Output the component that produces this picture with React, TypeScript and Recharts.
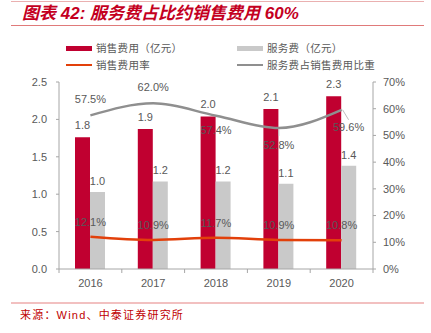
import { ComposedChart, Bar, Line, XAxis, YAxis, LabelList } from "recharts";

const years = ["2016", "2017", "2018", "2019", "2020"];
// 销售费用（亿元）
const salesExpense = [1.76, 1.87, 2.04, 2.14, 2.31];
// 服务费（亿元）
const serviceFee = [1.03, 1.17, 1.17, 1.14, 1.38];
// 销售费用率 (%)
const expenseRate = [12.1, 10.9, 11.7, 10.9, 10.8];
// 服务费占销售费用比重 (%)
const serviceShare = [57.5, 62.0, 57.4, 52.8, 59.6];

const leftTicks = [0, 0.5, 1.0, 1.5, 2.0, 2.5];
const rightTicks = [0, 10, 20, 30, 40, 50, 60, 70];

const data = years.map((year, i) => ({
  year,
  sales: salesExpense[i],
  service: serviceFee[i],
  rate: expenseRate[i],
  share: serviceShare[i],
}));

const RED = "#c00030";
const GREY_BAR = "#c9c9c9";
const ORANGE = "#e2400a";
const GREY_LINE = "#8f8f8f";
const AXIS = "#a6a6a6";
const TEXT = "#595959";
const NUM_FONT = "'Liberation Sans', Arial, sans-serif";
const CJK_FONT = "'Noto Sans CJK SC', sans-serif";

// label baseline offsets for the share line (above / below the point)
const shareDy = [-12, -12, 18, 21, 21];

function ShareLabel(props: any) {
  const { x, y, index, value } = props;
  const dx = index === 4 ? 7 : 0;
  return (
    <g>
      {index === 3 && (
        <line x1={x} y1={y + 1} x2={x} y2={y + 8} stroke="#bfbfbf" strokeWidth={1} />
      )}
      {index === 4 && (
        <line x1={x + 1} y1={y} x2={x + 7} y2={y + 10} stroke="#bfbfbf" strokeWidth={1} />
      )}
      <text
        x={x + dx}
        y={y + shareDy[index]}
        textAnchor="middle"
        fill={TEXT}
        fontSize={11}
        fontFamily={NUM_FONT}
      >
        {`${Number(value).toFixed(1)}%`}
      </text>
    </g>
  );
}

function RateLabel(props: any) {
  const { x, y, value } = props;
  return (
    <text x={x} y={y - 11} textAnchor="middle" fill={TEXT} fontSize={11} fontFamily={NUM_FONT}>
      {`${Number(value).toFixed(1)}%`}
    </text>
  );
}

function YearTick(props: any) {
  const { x, y, index, payload } = props;
  const half = 31.4;
  return (
    <g>
      <line x1={x - half} y1={y} x2={x - half} y2={y + 4} stroke={AXIS} />
      {index === years.length - 1 && (
        <line x1={x + half} y1={y} x2={x + half} y2={y + 4} stroke={AXIS} />
      )}
      <text x={x} y={y + 18} textAnchor="middle" fill={TEXT} fontSize={11} fontFamily={NUM_FONT}>
        {payload.value}
      </text>
    </g>
  );
}

function LegendItem({ kind, color, label, left, top }: any) {
  return (
    <div style={{ position: "absolute", left, top, display: "flex", alignItems: "center", height: 12 }}>
      <div
        style={{
          width: 26,
          height: kind === "bar" ? 5 : 2.5,
          background: color,
          marginRight: 4,
        }}
      />
      <span style={{ fontSize: 10.5, color: TEXT, fontFamily: CJK_FONT, letterSpacing: 0.3, lineHeight: "12px" }}>
        {label}
      </span>
    </div>
  );
}

export default function App() {
  return (
    <div style={{ position: "absolute", left: 0, top: 0, width: 431, height: 333, background: "#fff", overflow: "hidden" }}>
      <div style={{ position: "absolute", left: 11, top: 1, width: 413, height: 1, background: "#eab0b0" }} />
      <div
        style={{
          position: "absolute",
          left: 22,
          top: 3,
          fontSize: 17,
          lineHeight: "22px",
          fontWeight: "bold",
          fontStyle: "italic",
          color: "#c4001f",
          fontFamily: "'Liberation Sans', 'Noto Sans CJK SC', sans-serif",
          whiteSpace: "nowrap",
        }}
      >
        图表 42: 服务费占比约销售费用 60%
      </div>
      <div style={{ position: "absolute", left: 11, top: 25, width: 413, height: 1, background: "#e07a7a" }} />

      <LegendItem kind="bar" color={RED} label="销售费用（亿元）" left={66} top={42} />
      <LegendItem kind="bar" color={GREY_BAR} label="服务费（亿元）" left={237} top={42} />
      <LegendItem kind="line" color={ORANGE} label="销售费用率" left={66} top={59} />
      <LegendItem kind="line" color={GREY_LINE} label="服务费占销售费用比重" left={237} top={59} />

      <div style={{ position: "absolute", left: 0, top: 0 }}>
        <ComposedChart
          width={431}
          height={333}
          data={data}
          margin={{ top: 82, right: 0, left: 0, bottom: 0 }}
          barGap={0}
        >
          <XAxis
            dataKey="year"
            height={64}
            stroke={AXIS}
            tickLine={false}
            tickSize={0}
            tickMargin={0}
            tick={<YearTick />}
            interval={0}
          />
          <YAxis
            yAxisId="left"
            width={59}
            domain={[0, 2.5]}
            ticks={leftTicks}
            stroke={AXIS}
            tickSize={3}
            tickMargin={9}
            tick={{ fill: TEXT, fontSize: 11, fontFamily: NUM_FONT }}
            tickFormatter={(v: number) => v.toFixed(1)}
          />
          <YAxis
            yAxisId="right"
            orientation="right"
            width={58}
            domain={[0, 70]}
            ticks={rightTicks}
            stroke={AXIS}
            tickSize={3}
            tickMargin={7}
            tick={{ fill: TEXT, fontSize: 11, fontFamily: NUM_FONT, textAnchor: "start" }}
            tickFormatter={(v: number) => `${v}%`}
          />
          <Bar yAxisId="left" dataKey="sales" fill={RED} barSize={15} isAnimationActive={false}>
            <LabelList
              dataKey="sales"
              position="top"
              offset={8}
              fill={TEXT}
              fontSize={11}
              fontFamily={NUM_FONT}
              formatter={(v: any) => Number(v).toFixed(1)}
            />
          </Bar>
          <Bar yAxisId="left" dataKey="service" fill={GREY_BAR} barSize={15} isAnimationActive={false}>
            <LabelList
              dataKey="service"
              position="top"
              offset={7}
              fill={TEXT}
              fontSize={11}
              fontFamily={NUM_FONT}
              formatter={(v: any) => Number(v).toFixed(1)}
            />
          </Bar>
          <Line
            yAxisId="right"
            type="monotone"
            dataKey="share"
            stroke={GREY_LINE}
            strokeWidth={2.5}
            dot={false}
            label={ShareLabel}
            isAnimationActive={false}
          />
          <Line
            yAxisId="right"
            type="monotone"
            dataKey="rate"
            stroke={ORANGE}
            strokeWidth={2.5}
            dot={false}
            label={RateLabel}
            isAnimationActive={false}
          />
        </ComposedChart>
      </div>

      <div style={{ position: "absolute", left: 11, top: 302, width: 413, height: 2, background: "#f2c0c0" }} />
      <div
        style={{
          position: "absolute",
          left: 20,
          top: 307,
          fontSize: 11,
          lineHeight: "16px",
          letterSpacing: 1.2,
          color: "#c00000",
          fontFamily: "'Liberation Sans', 'Noto Sans CJK SC', sans-serif",
          whiteSpace: "nowrap",
        }}
      >
        来源：Wind、中泰证券研究所
      </div>
    </div>
  );
}
